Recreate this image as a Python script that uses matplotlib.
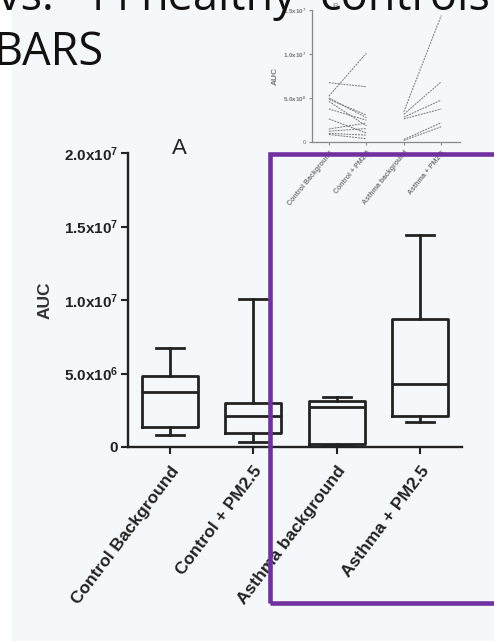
import numpy as np
import matplotlib
matplotlib.use('Agg')
import matplotlib.pyplot as plt
from matplotlib.patches import Rectangle
from matplotlib.ticker import FuncFormatter

plt.rcParams['font.family'] = ['Liberation Sans', 'DejaVu Sans']
plt.rcParams['mathtext.fontset'] = 'custom'
plt.rcParams['mathtext.rm'] = 'Liberation Sans'
plt.rcParams['mathtext.bf'] = 'Liberation Sans:bold'

# groups
groups = ['Control Background', 'Control + PM2.5', 'Asthma background', 'Asthma + PM2.5']

# box plot (A) statistics
box_low = [0.82e6, 0.34e6, 0.12e6, 1.70e6]
box_q1 = [1.34e6, 0.97e6, 0.22e6, 2.13e6]
box_med = [3.74e6, 2.13e6, 2.70e6, 4.27e6]
box_q3 = [4.83e6, 3.01e6, 3.13e6, 8.69e6]
box_high = [6.71e6, 1.01e7, 3.42e6, 1.44e7]

# paired values (B)
ctrl_bg = [6.73e6, 5.2e6, 5.0e6, 4.83e6, 4.6e6, 3.74e6, 2.6e6, 1.45e6, 1.2e6, 0.95e6, 0.82e6]
ctrl_pm = [6.27e6, 1.01e7, 2.75e6, 3.05e6, 1.8e6, 2.45e6, 1.0e6, 2.13e6, 1.5e6, 0.75e6, 0.34e6]
asth_bg = [3.42e6, 3.13e6, 2.8e6, 2.6e6, 0.25e6, 0.14e6]
asth_pm = [1.44e7, 6.84e6, 4.75e6, 3.73e6, 2.17e6, 1.71e6]

# slide title words (justified line, cut off at the top)
title_words = ['vs.', '11', 'healthy', 'controls']
title_x = [-2, 84, 140, 319]


def sci(v, pos):
    if v == 0:
        return '0'
    e = int(np.floor(np.log10(v) + 1e-9))
    return r'$\mathbf{%.1fx10^{%d}}$' % (v / 10 ** e, e)


W, H = 494, 642
fig = plt.figure(figsize=(W / 100, H / 100), dpi=100)
fig.patch.set_facecolor('white')
fig.patches.append(Rectangle((12 / W, 1 / H), 1, 1, transform=fig.transFigure,
                             facecolor='#f4f8fb', edgecolor='none', zorder=-10))

# ---- main panel A
ax = fig.add_axes([128 / W, 1 - 447 / H, (462 - 128) / W, (447 - 153) / H])
ax.set_facecolor('none')
stats = []
for i in range(len(groups)):
    stats.append(dict(whislo=box_low[i], q1=box_q1[i], med=box_med[i],
                      q3=box_q3[i], whishi=box_high[i], fliers=[]))
lw = 2.0
ax.bxp(stats, positions=range(4), widths=0.67, capwidths=0.34, showfliers=False,
       boxprops=dict(color='#222222', lw=lw),
       whiskerprops=dict(color='#222222', lw=lw),
       capprops=dict(color='#222222', lw=lw),
       medianprops=dict(color='#222222', lw=lw))
ax.set_xlim(-0.5, 3.5)
ax.set_ylim(0, 2.0e7)
ax.set_yticks([0, 5e6, 1e7, 1.5e7, 2e7])
ax.yaxis.set_major_formatter(FuncFormatter(sci))
ax.set_xticks(range(4))
ax.set_xticklabels(groups, rotation=53, ha='right', va='top', rotation_mode='anchor',
                   fontsize=12.5, fontweight='bold', color='#222222')
for t in ax.get_yticklabels():
    t.set_fontsize(11)
    t.set_fontweight('bold')
    t.set_color('#222222')
for s in ['top', 'right']:
    ax.spines[s].set_visible(False)
for s in ['left', 'bottom']:
    ax.spines[s].set_linewidth(1.7)
    ax.spines[s].set_color('#222222')
ax.tick_params(axis='both', length=5, width=1.5, color='#222222', pad=2)
ax.tick_params(axis='x', pad=7)
ax.set_ylabel('AUC', fontsize=12.5, fontweight='bold', color='#333333', labelpad=8)
fig.text(179 / W, 1 - 148 / H, 'A', fontsize=16, color='#222222', ha='center', va='center')

# ---- inset panel B
bx = fig.add_axes([312 / W, 1 - 141.7 / H, (460 - 312) / W, (141.7 - 10.2) / H])
bx.set_facecolor('none')
for a, b in zip(ctrl_bg, ctrl_pm):
    bx.plot([0, 1], [a, b], color='#777777', lw=0.7, ls=(0, (2, 1)))
for a, b in zip(asth_bg, asth_pm):
    bx.plot([2, 3], [a, b], color='#777777', lw=0.7, ls=(0, (2, 1)))
bx.set_xlim(-0.45, 3.5)
bx.set_ylim(0, 1.5e7)
bx.set_yticks([0, 5e6, 1e7, 1.5e7])
bx.yaxis.set_major_formatter(FuncFormatter(sci))
bx.set_xticks(range(4))
bx.set_xticklabels(groups, rotation=51, ha='right', va='top', rotation_mode='anchor',
                   fontsize=5, fontweight='bold', color='#777777')
for t in bx.get_yticklabels():
    t.set_fontsize(4.5)
    t.set_color('#777777')
for s in ['top', 'right']:
    bx.spines[s].set_visible(False)
for s in ['left', 'bottom']:
    bx.spines[s].set_linewidth(0.9)
    bx.spines[s].set_color('#888888')
bx.tick_params(axis='both', length=2.5, width=0.8, color='#888888', pad=1.5)
bx.tick_params(axis='x', pad=3)
bx.set_ylabel('AUC', fontsize=6, fontweight='bold', color='#777777', labelpad=3)
fig.text(335 / W, 1 - 6 / H, 'B', fontsize=6, color='#888888', ha='center', va='center')

# ---- slide title
for word, x in zip(title_words, title_x):
    fig.text(x / W, 1 - 10 / H, word, family='Open Sans', fontsize=32.5,
             color='#111111', va='baseline', ha='left', zorder=6)
fig.text(-6 / W, 1 - 65 / H, 'BARS', family='Open Sans',
         fontsize=32.5, color='#111111', va='baseline', ha='left', zorder=6)

# ---- purple highlight frame
fig.patches.append(Rectangle((270 / W, 1 - 603 / H), 300 / W, (603 - 154) / H,
                             transform=fig.transFigure, facecolor='none',
                             edgecolor='#7030a0', lw=3.3, zorder=7))

fig.savefig('out.png', dpi=100)
